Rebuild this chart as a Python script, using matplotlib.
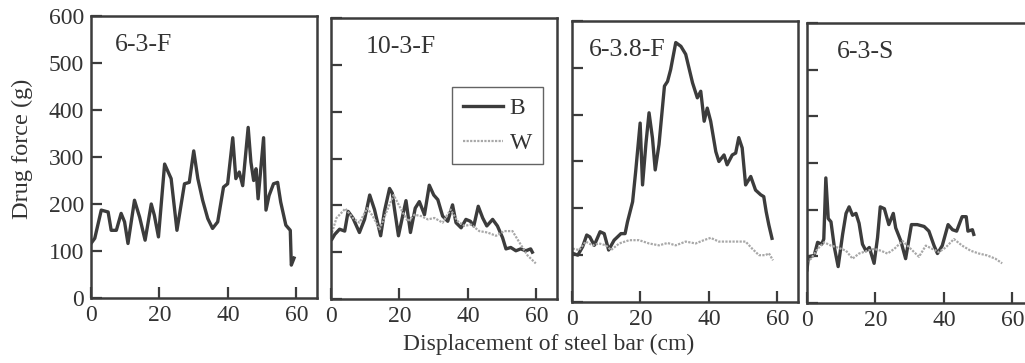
import matplotlib
matplotlib.use("Agg")
import matplotlib.pyplot as plt

plt.rcParams["font.family"] = ["Liberation Serif", "DejaVu Serif"]

# panel 6-3-F (B only)
x_63f_b = [0, 1.1, 3, 5, 5.9, 7.4, 8.8, 9.8, 10.8, 12.7, 14.2, 15.8, 17.6, 18.5, 19.7,
           21.5, 23.4, 25.1, 27.3, 28.7, 30, 31.2, 32.6, 34.1, 35.5, 37, 38.7, 39.9,
           41.4, 42.3, 43.3, 44.3, 45.9, 46.7, 47.5, 48.2, 48.8, 50.4, 51.1, 52, 53.3,
           54.5, 55.4, 56.9, 58.2, 58.5, 59.3]
y_63f_b = [116, 127, 187, 183, 144, 144, 180, 162, 116, 208, 172, 123, 200, 176, 130,
           285, 254, 144, 243, 246, 313, 254, 208, 169, 148, 162, 236, 243,
           341, 254, 268, 239, 363, 289, 250, 275, 211, 341, 187, 218, 243,
           246, 204, 155, 144, 70, 85]

# panel 10-3-F
x_103f_b = [0.3, 1.1, 2.5, 4, 5, 6.4, 8.3, 9.8, 11.3, 12.7, 14.5, 15.6, 17.1, 17.9, 18.5,
            19.7, 21, 21.9, 23.2, 24.6, 25.8, 27.3, 28.7, 30, 31.2, 32.6, 34.1, 35.5,
            36.5, 38, 39.4, 40.7, 41.7, 43, 44.3, 45.5, 47.2, 48.6, 50.1, 51.1, 52.5,
            54, 55.4, 56.9, 58.3, 58.8]
y_103f_b = [128, 138, 149, 145, 187, 173, 142, 170, 222, 191, 135, 187, 236, 226, 194,
            135, 180, 210, 142, 194, 208, 180, 243, 222, 212, 177, 166, 201,
            163, 152, 170, 166, 156, 198, 173, 156, 170, 156, 131, 107, 110,
            103, 107, 103, 107, 100]
x_103f_w = [0.3, 1.6, 4.2, 6.4, 8.3, 10.6, 12.2, 14.2, 16.1, 18.3, 20.5, 22.4, 24.4, 26.3,
            28.3, 30.2, 32.6, 34.9, 37, 39, 40.9, 43.3, 45.7, 48.2, 50.6, 53, 55, 57.4, 59.8]
y_103f_w = [142, 173, 193, 173, 163, 194, 177, 149, 184, 222, 191, 166, 180, 177,
            170, 173, 163, 191, 166, 156, 159, 145, 142, 135, 145, 145, 121, 93, 76]

# panel 6-3.8-F
x_638f_b = [0.2, 1.7, 3.1, 4.3, 5.2, 6.5, 8.2, 9.4, 10.7, 12.3, 14.3, 15.5, 16.2, 17.7,
            18.6, 19.9, 20.6, 21.6, 22.5, 23.5, 24.3, 25.4, 27, 27.9, 28.8, 30.3, 31.8,
            33.2, 35.2, 36.6, 37.6, 38.6, 39.5, 40.5, 42, 42.9, 44.4, 45.3, 46.8, 47.8,
            48.7, 49.7, 50.7, 52.2, 53.6, 55.1, 56, 56.7, 57.5, 58.4]
y_638f_b = [104, 100, 118, 143, 139, 121, 150, 146, 111, 132, 146, 146, 171, 214,
            279, 382, 250, 339, 404, 350, 282, 336, 461, 471, 496, 554, 546,
            529, 468, 436, 450, 386, 414, 386, 321, 300, 314, 293, 314, 318,
            351, 329, 250, 268, 239, 229, 225, 193, 164, 136]
x_638f_w = [0.2, 2.1, 4, 6, 7.9, 9.9, 11.4, 13.8, 16.7, 19.6, 22.5, 25.4, 27.9, 30.3,
            33.2, 36.1, 38.5, 40.5, 42.9, 45.8, 48.7, 50.7, 52.6, 54.6, 56.5, 57.5, 58.7]
y_638f_w = [114, 111, 129, 121, 125, 121, 111, 125, 132, 132, 125, 121, 126, 121,
            129, 125, 132, 137, 129, 129, 129, 129, 114, 100, 100, 104, 89]

# panel 6-3-S
x_63s_b = [0, 0.4, 2.1, 3.1, 4.3, 4.9, 5.5, 6.2, 7, 8, 9.1, 10.4, 11.4, 12.3, 13.3,
           14.3, 15.2, 16.2, 17.2, 18.2, 19.6, 20.6, 21.4, 22.6, 23.9, 25.2, 25.9,
           27.4, 28.8, 30.5, 32.2, 34.2, 35.6, 37.1, 38.1, 39.5, 41.2, 42.5, 43.7,
           45.3, 46.5, 47, 48.3, 48.7]
y_63s_b = [71, 99, 102, 130, 126, 137, 268, 181, 174, 119, 78, 147, 192, 206, 188,
           192, 171, 126, 112, 119, 85, 140, 206, 202, 168, 192, 161,
           133, 95, 168, 168, 164, 154, 123, 106, 123, 168, 157, 154,
           185, 185, 154, 157, 147]
x_63s_w = [0, 1.2, 3.1, 5, 7, 8.9, 11.4, 13.3, 15.2, 17.7, 19.6, 21.6, 23.5, 25.5,
           27.9, 30.3, 32.7, 34.7, 36.6, 38.5, 40.5, 42.9, 45.3, 47.8, 50.2, 52.6, 55, 57]
y_63s_w = [88, 95, 116, 130, 123, 119, 112, 95, 106, 112, 116, 112, 106, 116,
           133, 116, 99, 123, 116, 109, 119, 137, 123, 112, 106, 102, 95, 85]

panels = [
    ("6-3-F", x_63f_b, y_63f_b, None, None),
    ("10-3-F", x_103f_b, y_103f_b, x_103f_w, y_103f_w),
    ("6-3.8-F", x_638f_b, y_638f_b, x_638f_w, y_638f_w),
    ("6-3-S", x_63s_b, y_63s_b, x_63s_w, y_63s_w),
]

W, H = 1025, 363
# left px, top px, bottom px of each frame
boxes = [(91, 16, 298), (331, 18, 299), (572, 21, 302), (807, 23, 303)]
box_w = 226
name_x = [0.106, 0.155, 0.075, 0.133]

dark = "#3c3c3c"
light = "#a8a8a8"
txt = "#333333"

fig = plt.figure(figsize=(W / 100, H / 100), dpi=100)

for i, ((name, xb, yb, xw, yw), (lp, tp, bp)) in enumerate(zip(panels, boxes)):
    ax = fig.add_axes([lp / W, 1 - bp / H, box_w / W, (bp - tp) / H])
    ax.plot(xb, yb, color=dark, lw=2.4, label="B")
    if xw is not None:
        ax.plot(xw, yw, color=light, lw=1.6, ls=(0, (1, 0.6)), label="W")
    ax.set_xlim(0, 66)
    ax.set_ylim(0, 600)
    ax.set_xticks([0, 20, 40, 60])
    ax.set_yticks([0, 100, 200, 300, 400, 500, 600])
    ax.tick_params(direction="in", length=8, width=1.6, color=dark,
                   labelsize=17, labelcolor=txt)
    ax.tick_params(axis="x", pad=5)
    ax.tick_params(axis="y", pad=5)
    if i > 0:
        ax.tick_params(axis="y", labelleft=False)
    for s in ax.spines.values():
        s.set_linewidth(1.8)
        s.set_color(dark)
    ax.text(name_x[i], 0.935, name, transform=ax.transAxes, fontsize=18.5,
            color=txt, va="top", ha="left")
    if i == 0:
        ax.set_ylabel("Drug force (g)", fontsize=17.5, color=txt)
        ax.yaxis.set_label_coords(-0.255, 0.53)
    if i == 1:
        leg = ax.legend(loc="upper left", bbox_to_anchor=(0.535, 0.754),
                        borderaxespad=0, fontsize=17, frameon=True, fancybox=False,
                        handlelength=1.7, borderpad=0.45, labelspacing=0.55,
                        handletextpad=0.3)
        leg.get_frame().set_edgecolor(dark)
        leg.get_frame().set_linewidth(1.0)
        for t in leg.get_texts():
            t.set_color(txt)

fig.text(549 / W, 1 - 344 / H, "Displacement of steel bar (cm)", fontsize=17,
         color=txt, ha="center", va="center")

fig.savefig("out.png", dpi=100)
